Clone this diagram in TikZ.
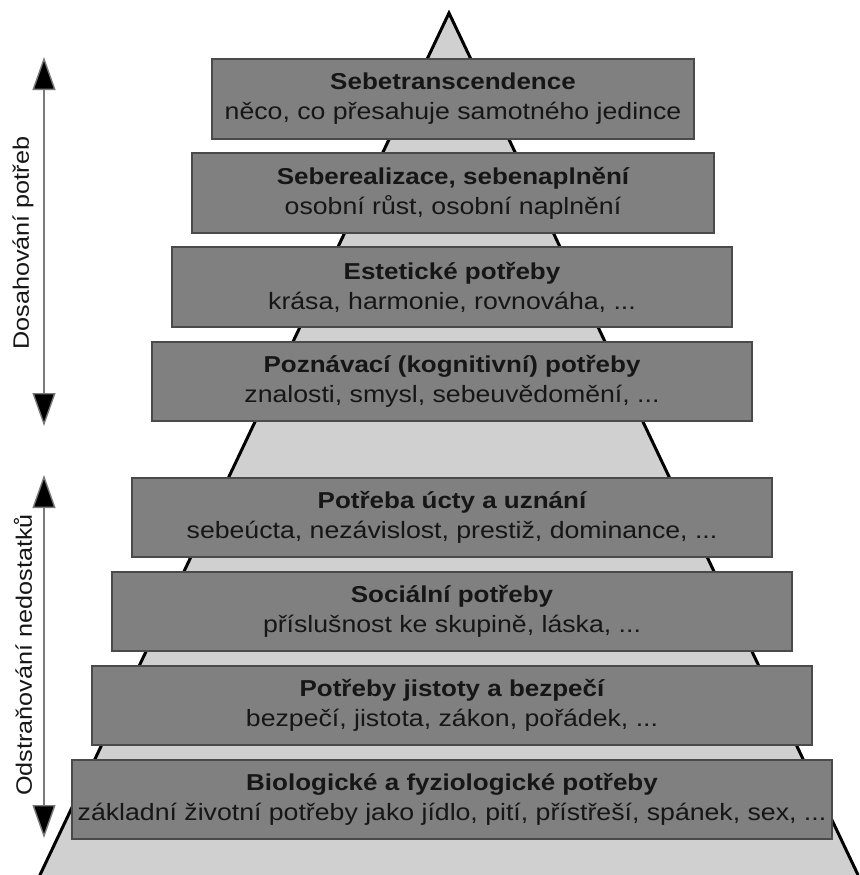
\documentclass[tikz,border=0pt]{standalone}
\usepackage{fontspec}
\setmainfont{Liberation Sans}[FakeStretch=1.13]
\usetikzlibrary{arrows.meta}
\definecolor{trifill}{HTML}{D0D0D0}
\definecolor{boxfill}{HTML}{808080}
\definecolor{boxline}{HTML}{4A4A4A}
\definecolor{txt}{HTML}{161616}
\definecolor{shaft}{HTML}{7A7A7A}
\newcommand{\lvl}[2]{{\fontsize{23}{30}\selectfont\bfseries #1}\\{\fontsize{23.6}{30}\selectfont #2}}
\tikzset{
  level/.style={draw=boxline, line width=1.3pt, fill=boxfill, rectangle, inner sep=0pt,
    minimum height=80pt, align=center, text=txt, font=\fontsize{23}{30}\selectfont},
  side/.style={rotate=90, text=txt, font=\fontsize{22.3}{26}\selectfont, inner sep=0pt},
  dbl/.style={draw=shaft, line width=1.4pt, {Triangle[width=23pt,length=33pt,fill=black]}-{Triangle[width=23pt,length=33pt,fill=black]}}
}
\begin{document}
\begin{tikzpicture}[x=1pt,y=-1pt]
\useasboundingbox (0,0) rectangle (859,875);
\clip (0,0) rectangle (859,875);
% pyramid
\fill[trifill] (449,13) -- (39,877) -- (859,877) -- cycle;
\draw[black, line width=3pt, line join=miter] (39,877) -- (449,13) -- (859,877);
% levels
\node[level, minimum width=482pt] (l1) at (453,99) {\lvl{Sebetranscendence}{něco, co přesahuje samotného jedince}};
\node[level, minimum width=522pt] (l2) at (453,193) {\lvl{Seberealizace, sebenaplnění}{osobní růst, osobní naplnění}};
\node[level, minimum width=560pt] (l3) at (452,287) {\lvl{Estetické potřeby}{krása, harmonie, rovnováha, ...}};
\node[level, minimum width=600pt, minimum height=79pt] (l4) at (452,381.5) {\lvl{Poznávací (kognitivní) potřeby}{znalosti, smysl, sebeuvědomění, ...}};
\node[level, minimum width=640pt, minimum height=79pt] (l5) at (452,517.5) {\lvl{Potřeba úcty a uznání}{sebeúcta, nezávislost, prestiž, dominance, ...}};
\node[level, minimum width=680pt, minimum height=79pt] (l6) at (452,611.5) {\lvl{Sociální potřeby}{příslušnost ke skupině, láska, ...}};
\node[level, minimum width=720pt, minimum height=79pt] (l7) at (452,705.5) {\lvl{Potřeby jistoty a bezpečí}{bezpečí, jistota, zákon, pořádek, ...}};
\node[level, minimum width=760pt, minimum height=79pt] (l8) at (452,799.5) {\lvl{Biologické a fyziologické potřeby}{základní životní potřeby jako jídlo, pití, přístřeší, spánek, sex, ...}};
% side arrows
\coordinate (u1) at (44,57);
\coordinate (u2) at (44,426);
\coordinate (d1) at (44,475);
\coordinate (d2) at (44,838);
\draw[dbl] (u1) -- (u2);
\draw[dbl] (d1) -- (d2);
\node[side] (s1) at (23,243) {Dosahování potřeb};
\node[side] (s2) at (23,655) {Odstraňování nedostatků};
\end{tikzpicture}
\end{document}
